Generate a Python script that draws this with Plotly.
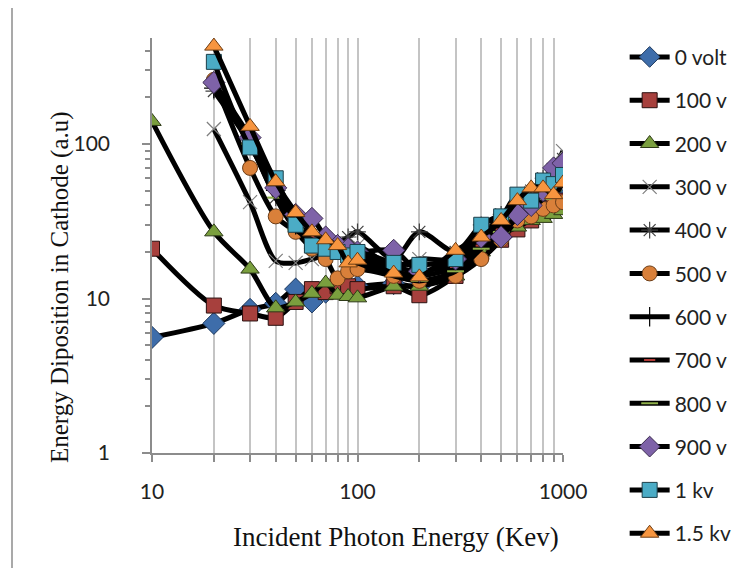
import plotly.graph_objects as go

# ---------------- data ----------------
energy_full = [10, 20, 30, 40, 50, 60, 70, 80, 90, 100, 150, 200, 300, 400, 500, 600, 700, 800, 900, 1000]
energy_hi = [20, 30, 40, 50, 60, 70, 80, 90, 100, 150, 200, 300, 400, 500, 600, 700, 800, 900, 1000]

v0 = [5.6, 6.9, 8.5, 9.3, 11.5, 9.5, 11, 12, 12, 12, 12.5, 12, 15, 21, 25, 30, 34, 38, 41, 43]
v100 = [21, 9, 8, 7.5, 9.5, 11.5, 11, 12, 12, 11.5, 12, 10.5, 14, 20, 24, 28, 32, 36, 40, 43]
v200 = [140, 27, 15.5, 8.7, 9.5, 10.8, 12.6, 10.5, 10.3, 10.1, 12, 12, 14, 20, 26, 29, 32, 33, 35, 37]
v300 = [125, 42, 17.5, 17, 18, 19, 20, 21, 22, 16, 18, 18, 26, 33, 38, 48, 58, 68, 90]
v400 = [220, 100, 45, 30, 26, 24, 23, 25, 27, 18, 27, 20, 30, 35, 42, 50, 60, 68, 80]
v500 = [260, 70, 34, 27, 21, 18, 13.5, 15, 15.5, 14, 13, 14, 18, 24, 32, 34, 38, 40, 42]
v600 = [230, 110, 50, 30, 26, 23, 21, 20, 19, 16, 15, 17, 24, 30, 36, 42, 50, 56, 62]
v700 = [250, 105, 48, 28, 25, 22, 20, 19, 18, 15, 14, 16, 22, 28, 34, 40, 46, 52, 58]
v800 = [240, 100, 45, 28, 24, 21, 19, 18, 17, 14, 13, 15, 21, 27, 33, 38, 44, 50, 55]
v900 = [250, 110, 52, 35, 33, 25, 22, 21, 20, 20.5, 15, 18, 25, 25, 35, 40, 50, 70, 75]
v1k = [340, 95, 60, 30, 22, 21, 20, 19, 20, 17, 16.5, 18, 30, 34, 47, 43, 58, 55, 63]
v1k5 = [430, 130, 57, 36, 27, 24, 22, 17, 17.7, 14.6, 13.8, 20.5, 25, 32, 43, 52, 52, 47, 56]

names = ["0 volt", "100 v", "200 v", "300 v", "400 v", "500 v",
         "600 v", "700 v", "800 v", "900 v", "1 kv", "1.5 kv"]
x_sets = [energy_full, energy_full, energy_full] + [energy_hi] * 9
y_sets = [v0, v100, v200, v300, v400, v500, v600, v700, v800, v900, v1k, v1k5]

x_ticks = [10, 100, 1000]
x_minor = [20, 30, 40, 50, 60, 70, 80, 90, 200, 300, 400, 500, 600, 700, 800, 900]
y_ticks = [1, 10, 100]
y_minor = [2, 3, 4, 5, 6, 7, 8, 9, 20, 30, 40, 50, 60, 70, 80, 90, 200, 300, 400]

# ---------------- styles ----------------
markers = [
    dict(symbol="diamond", size=17, color="#3E6DAA", line=dict(color="#1F3A5F", width=1)),
    dict(symbol="square", size=15, color="#A7403D", line=dict(color="#2a1010", width=1)),
    dict(symbol="triangle-up", size=16, color="#7A9F3E", line=dict(color="#2d3a17", width=1)),
    dict(symbol="x-thin", size=14, color="#7F7F7F", line=dict(color="#7F7F7F", width=1.2)),
    dict(symbol="asterisk", size=14, color="#404040", line=dict(color="#404040", width=1.2)),
    dict(symbol="circle", size=15, color="#D9803A", line=dict(color="#6b3d18", width=1)),
    dict(symbol="cross-thin", size=14, color="#000000", line=dict(color="#000000", width=1.2)),
    dict(symbol="line-ew", size=8, color="#B03A36", line=dict(color="#B03A36", width=2)),
    dict(symbol="line-ew", size=12, color="#8FB04A", line=dict(color="#8FB04A", width=2)),
    dict(symbol="diamond", size=17, color="#7E62A8", line=dict(color="#3a2b4f", width=1)),
    dict(symbol="square", size=15, color="#4BACC6", line=dict(color="#1c3f49", width=1)),
    dict(symbol="triangle-up", size=16, color="#F7953F", line=dict(color="#6d3d14", width=1)),
]

fig = go.Figure()
for i, (nm, xs, ys, mk) in enumerate(zip(names, x_sets, y_sets, markers)):
    fig.add_trace(go.Scatter(
        x=xs, y=ys, name=nm, mode="lines+markers",
        line=dict(color="black", width=5, shape="spline", smoothing=0.8),
        marker=mk, legendgroup=f"g{i}",
    ))

grid_col = "#C4C4C4"
axis_col = "#8C8C8C"

# the page body adds an 8px offset; plot area spans x 152..563, y 38..453 on screen
fig.update_layout(
    width=744, height=560,
    margin=dict(l=144, r=189, t=30, b=115),
    paper_bgcolor="white", plot_bgcolor="white",
    showlegend=True,
    legend=dict(
        x=1.15, y=1.003, xanchor="left", yanchor="top",
        font=dict(family="Lato", size=21, color="#222"),
        tracegroupgap=13, itemwidth=40, bgcolor="rgba(0,0,0,0)", maxheight=1,
    ),
    xaxis=dict(
        type="log", range=[1, 3],
        tickvals=x_ticks, ticktext=["10", "100", "1000"],
        ticks="outside", ticklen=7, tickcolor=axis_col, tickwidth=1.5,
        showline=True, linecolor=axis_col, linewidth=1.5,
        showgrid=True, gridcolor=grid_col, gridwidth=1.5,
        minor=dict(tickvals=x_minor, ticks="outside", ticklen=7, tickcolor=axis_col,
                   showgrid=True, gridcolor=grid_col, gridwidth=1.5),
        tickfont=dict(family="Lato", size=21, color="#222"),
        ticklabelstandoff=12,
        zeroline=False,
    ),
    yaxis=dict(
        type="log", range=[0, 2.686],
        tickvals=y_ticks, ticktext=["1", "10", "100"],
        ticks="outside", ticklen=8, tickcolor=axis_col, tickwidth=1.5,
        showline=True, linecolor=axis_col, linewidth=1.5,
        showgrid=False,
        minor=dict(tickvals=y_minor, ticks="outside", ticklen=5, tickcolor=axis_col,
                   showgrid=False),
        tickfont=dict(family="Lato", size=21, color="#222"),
        ticklabelstandoff=28,
        zeroline=False,
    ),
    annotations=[
        dict(text="Incident Photon Energy (Kev)", xref="paper", yref="paper",
             x=(396 - 152) / 411, y=-(537 - 453) / 415, xanchor="center", yanchor="middle",
             showarrow=False, font=dict(family="Liberation Serif", size=27, color="#111")),
        dict(text="Energy Diposition in Cathode (a.u)", xref="paper", yref="paper",
             x=(60 - 152) / 411, y=(453 - 287) / 415, xanchor="center", yanchor="middle",
             textangle=-90, showarrow=False,
             font=dict(family="Liberation Serif", size=25, color="#111")),
    ],
    shapes=[
        dict(type="line", xref="paper", yref="paper",
             x0=(12 - 152) / 411, x1=(12 - 152) / 411, y0=-0.4, y1=1.2,
             line=dict(color="#8C8C8C", width=1.5)),
    ],
)

fig.write_html("out.html")
